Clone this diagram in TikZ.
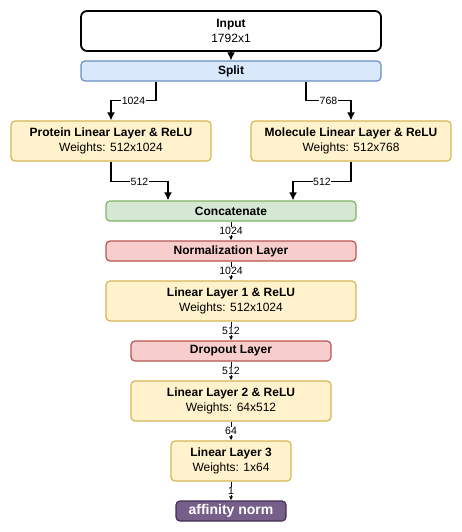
\documentclass[tikz,border=0pt]{standalone}
\usepackage{fontspec}
\setmainfont{Liberation Sans}
\usetikzlibrary{positioning,arrows.meta}
\definecolor{fillsp}{HTML}{DAE8FC}
\definecolor{linesp}{HTML}{6C8EBF}
\definecolor{fillyl}{HTML}{FFF2CC}
\definecolor{lineyl}{HTML}{D6B656}
\definecolor{fillgr}{HTML}{D5E8D4}
\definecolor{linegr}{HTML}{82B366}
\definecolor{fillrd}{HTML}{F8CECC}
\definecolor{linerd}{HTML}{B85450}
\definecolor{fillpu}{HTML}{76608A}
\definecolor{linepu}{HTML}{432D57}
\tikzset{
  layer/.style={draw, rounded corners=4pt, line width=1.2pt, align=center,
    inner sep=0pt, font=\fontsize{12}{14.5}\selectfont},
  inbox/.style={layer, draw=black, line width=1.8pt, fill=white, rounded corners=6pt},
  bluebox/.style={layer, draw=linesp, fill=fillsp},
  yellowbox/.style={layer, draw=lineyl, fill=fillyl},
  greenbox/.style={layer, draw=linegr, fill=fillgr},
  redbox/.style={layer, draw=linerd, fill=fillrd},
  outbox/.style={layer, draw=linepu, fill=fillpu, text=white,
    font=\fontsize{14}{16}\selectfont\bfseries},
  edgebr/.style={black, line width=1.5pt, -{Latex[length=8pt,width=8pt]}},
  edgech/.style={black, line width=0.8pt, -{Latex[length=4pt,width=4pt]}},
  lbl/.style={fill=white, inner sep=0.6pt, font=\fontsize{10.5}{11}\selectfont}
}

\begin{document}
\begin{tikzpicture}[x=1pt, y=-1pt]
\useasboundingbox (0,0) rectangle (462,532);
\node[inbox, minimum width=300pt, minimum height=40pt] (input) at (231,31) {\textbf{Input}\\1792x1};
\node[bluebox, minimum width=300pt, minimum height=20pt] (split) at (231,71) {\textbf{Split}};
\node[yellowbox, minimum width=200pt, minimum height=40pt] (prot) at (111,141) {\textbf{Protein Linear Layer \& ReLU}\\Weights: 512x1024};
\node[yellowbox, minimum width=200pt, minimum height=40pt] (mol) at (351,141) {\textbf{Molecule Linear Layer \& ReLU}\\Weights: 512x768};
\node[greenbox, minimum width=250pt, minimum height=20pt] (concat) at (231,211) {\textbf{Concatenate}};
\node[redbox, minimum width=250pt, minimum height=20pt] (norm) at (231,251) {\textbf{Normalization Layer}};
\node[yellowbox, minimum width=250pt, minimum height=40pt] (lin1) at (231,301) {\textbf{Linear Layer 1 \& ReLU}\\Weights: 512x1024};
\node[redbox, minimum width=200pt, minimum height=20pt] (drop) at (231,351) {\textbf{Dropout Layer}};
\node[yellowbox, minimum width=200pt, minimum height=40pt] (lin2) at (231,401) {\textbf{Linear Layer 2 \& ReLU}\\Weights: 64x512};
\node[yellowbox, minimum width=120pt, minimum height=40pt] (lin3) at (231,461) {\textbf{Linear Layer 3}\\Weights: 1x64};
\node[outbox, minimum width=110pt, minimum height=20pt] (aff) at (231,511) {affinity norm};

% split into the two branches
\draw[edgebr] (input) -- (split);
\draw[edgebr] ([xshift=-75pt]split.south) -- ++(0,19) -| node[lbl, pos=0.25] {1024} (prot.north);
\draw[edgebr] ([xshift=75pt]split.south) -- ++(0,19) -| node[lbl, pos=0.25] {768} (mol.north);
\draw[edgebr] (prot.south) -- ++(0,20) -| node[lbl, pos=0.25] {512} ([xshift=-63pt]concat.north);
\draw[edgebr] (mol.south) -- ++(0,20) -| node[lbl, pos=0.25] {512} ([xshift=62pt]concat.north);

% main chain
\draw[edgech] (concat) -- node[lbl] {1024} (norm);
\draw[edgech] (norm) -- node[lbl] {1024} (lin1);
\draw[edgech] (lin1) -- node[lbl] {512} (drop);
\draw[edgech] (drop) -- node[lbl] {512} (lin2);
\draw[edgech] (lin2) -- node[lbl] {64} (lin3);
\draw[edgech] (lin3) -- node[lbl] {1} (aff);
\end{tikzpicture}
\end{document}
